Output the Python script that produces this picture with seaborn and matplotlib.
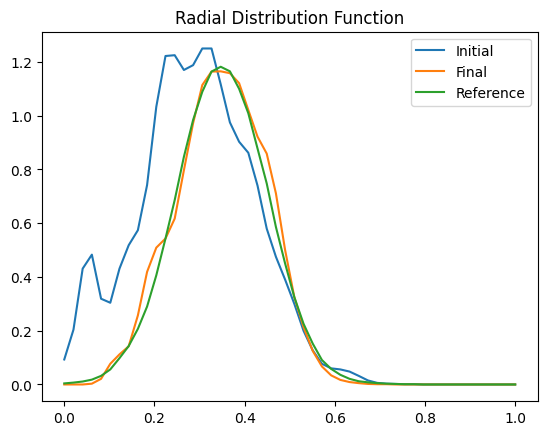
import numpy as np
import pandas as pd
import matplotlib
matplotlib.use("Agg")
import matplotlib.pyplot as plt
import seaborn as sns

# radial distance grid (50 samples from 0 to 1)
r = np.linspace(0, 1, 50)

initial = [0.093, 0.204, 0.431, 0.483, 0.319, 0.304, 0.431, 0.518, 0.574, 0.742,
           1.033, 1.222, 1.225, 1.170, 1.188, 1.250, 1.250, 1.117, 0.975, 0.903,
           0.862, 0.740, 0.580, 0.475, 0.390, 0.300, 0.200, 0.127, 0.077, 0.060,
           0.056, 0.048, 0.032, 0.015, 0.006, 0.003, 0.002, 0.001, 0.001, 0.0,
           0.0, 0.0, 0.0, 0.0, 0.0, 0.0, 0.0, 0.0, 0.0, 0.0]

final = [0.0, 0.0, 0.0, 0.003, 0.021, 0.077, 0.112, 0.142, 0.257, 0.419,
         0.509, 0.543, 0.617, 0.797, 0.972, 1.114, 1.164, 1.165, 1.158, 1.121,
         1.021, 0.922, 0.859, 0.711, 0.500, 0.325, 0.214, 0.125, 0.067, 0.034,
         0.017, 0.009, 0.005, 0.002, 0.001, 0.001, 0.0, 0.0, 0.0, 0.0,
         0.0, 0.0, 0.0, 0.0, 0.0, 0.0, 0.0, 0.0, 0.0, 0.0]

reference = [0.004, 0.007, 0.011, 0.018, 0.032, 0.056, 0.098, 0.143, 0.207, 0.290,
             0.406, 0.543, 0.686, 0.847, 0.984, 1.089, 1.164, 1.182, 1.165, 1.100,
             1.009, 0.878, 0.748, 0.586, 0.450, 0.325, 0.226, 0.152, 0.091, 0.058,
             0.036, 0.021, 0.012, 0.008, 0.005, 0.003, 0.002, 0.001, 0.001, 0.0,
             0.0, 0.0, 0.0, 0.0, 0.0, 0.0, 0.0, 0.0, 0.0, 0.0]

df = pd.DataFrame({
    "r": np.tile(r, 3),
    "g": initial + final + reference,
    "series": ["Initial"] * 50 + ["Final"] * 50 + ["Reference"] * 50,
})

fig, ax = plt.subplots(figsize=(6.4, 4.8), dpi=100)
sns.lineplot(data=df, x="r", y="g", hue="series", ax=ax, linewidth=1.5,
             palette=["#1f77b4", "#ff7f0e", "#2ca02c"])
ax.set_title("Radial Distribution Function")
ax.set_xlabel("")
ax.set_ylabel("")
ax.legend(loc="upper right")
plt.savefig("out.png", bbox_inches="tight")
